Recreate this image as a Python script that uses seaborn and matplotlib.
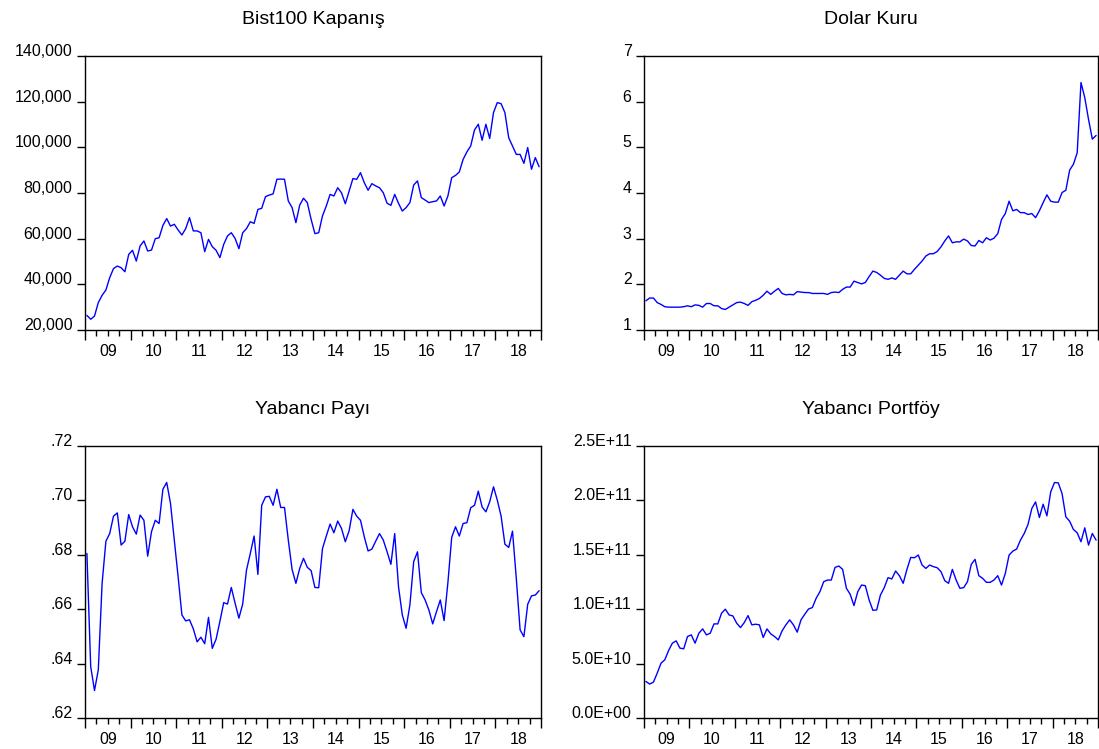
import numpy as np
import pandas as pd
import matplotlib
matplotlib.use('Agg')
import matplotlib.pyplot as plt
import seaborn as sns

# monthly data, 2009M01 - 2018M12
years = ['09', '10', '11', '12', '13', '14', '15', '16', '17', '18']

bist100 = [
    26400, 24700, 26100, 32000, 35200, 37500, 42900, 46900, 48000, 47300,
    45500, 53100, 54900, 50200, 56800, 59000, 54600, 55000, 60000, 60400,
    65800, 68800, 65500, 66300, 63800, 61600, 64400, 69200, 63400, 63400,
    62600, 54300, 59700, 56500, 54900, 51700, 57500, 61200, 62600, 60100,
    55600, 62600, 64400, 67400, 66700, 72800, 73300, 78400, 79100, 79600,
    86000, 86100, 86000, 76500, 73600, 67000, 74700, 77700, 75800, 68500,
    62200, 62600, 70000, 74300, 79400, 78700, 82300, 80100, 75300, 80800,
    86300, 86000, 88900, 84500, 81200, 84100, 83100, 82300, 80100, 75500,
    74600, 79400, 75500, 72100, 73600, 75800, 83500, 85300, 78000, 76900,
    75800, 76200, 76500, 78700, 74300, 78700, 86700, 87700, 89200, 94700,
    98000, 100600, 107600, 110100, 103100, 110100, 103900, 115200, 119600, 119100,
    115200, 104200, 100600, 96900, 96900, 93000, 99900, 90400, 95500, 91500,
]

dolar = [
    1.64, 1.70, 1.70, 1.60, 1.56, 1.51, 1.50, 1.50, 1.50, 1.50,
    1.51, 1.53, 1.51, 1.55, 1.54, 1.50, 1.58, 1.58, 1.53, 1.53,
    1.47, 1.45, 1.50, 1.55, 1.60, 1.61, 1.58, 1.54, 1.62, 1.65,
    1.69, 1.76, 1.85, 1.78, 1.85, 1.91, 1.80, 1.77, 1.78, 1.77,
    1.84, 1.83, 1.82, 1.82, 1.80, 1.80, 1.80, 1.80, 1.78, 1.82,
    1.83, 1.82, 1.89, 1.94, 1.94, 2.07, 2.04, 2.01, 2.04, 2.17,
    2.29, 2.26, 2.20, 2.13, 2.11, 2.14, 2.11, 2.20, 2.29, 2.23,
    2.23, 2.33, 2.42, 2.51, 2.62, 2.67, 2.67, 2.72, 2.82, 2.95,
    3.06, 2.91, 2.93, 2.93, 2.99, 2.95, 2.85, 2.84, 2.96, 2.91,
    3.02, 2.97, 3.01, 3.11, 3.42, 3.55, 3.82, 3.61, 3.64, 3.57,
    3.57, 3.53, 3.55, 3.46, 3.61, 3.79, 3.96, 3.82, 3.80, 3.80,
    4.01, 4.06, 4.50, 4.63, 4.88, 6.42, 6.09, 5.61, 5.18, 5.26,
]

yabanci_payi = [
    0.6805, 0.6389, 0.6301, 0.6377, 0.6695, 0.6850, 0.6878, 0.6942, 0.6954, 0.6836,
    0.6850, 0.6948, 0.6903, 0.6876, 0.6946, 0.6927, 0.6795, 0.6885, 0.6927, 0.6915,
    0.7041, 0.7066, 0.6989, 0.6854, 0.6720, 0.6579, 0.6557, 0.6561, 0.6528, 0.6480,
    0.6497, 0.6473, 0.6570, 0.6456, 0.6490, 0.6555, 0.6624, 0.6619, 0.6680, 0.6622,
    0.6567, 0.6619, 0.6744, 0.6805, 0.6869, 0.6728, 0.6982, 0.7013, 0.7015, 0.6982,
    0.7041, 0.6974, 0.6974, 0.6854, 0.6746, 0.6695, 0.6750, 0.6787, 0.6754, 0.6742,
    0.6680, 0.6679, 0.6823, 0.6869, 0.6913, 0.6881, 0.6924, 0.6897, 0.6848, 0.6888,
    0.6967, 0.6942, 0.6927, 0.6866, 0.6814, 0.6821, 0.6850, 0.6878, 0.6854, 0.6811,
    0.6765, 0.6878, 0.6683, 0.6579, 0.6530, 0.6616, 0.6775, 0.6811, 0.6661, 0.6634,
    0.6597, 0.6546, 0.6591, 0.6634, 0.6558, 0.6698, 0.6864, 0.6903, 0.6869, 0.6915,
    0.6918, 0.6973, 0.6982, 0.7034, 0.6976, 0.6958, 0.6995, 0.7050, 0.7001, 0.6942,
    0.6839, 0.6827, 0.6887, 0.6713, 0.6524, 0.6499, 0.6618, 0.6649, 0.6652, 0.6668,
]

# in units of 1E+11
yabanci_portfoy = [
    0.336, 0.312, 0.330, 0.413, 0.504, 0.535, 0.620, 0.688, 0.709, 0.642,
    0.636, 0.749, 0.764, 0.688, 0.779, 0.819, 0.764, 0.779, 0.865, 0.865,
    0.963, 1.000, 0.947, 0.938, 0.871, 0.831, 0.877, 0.941, 0.856, 0.862,
    0.856, 0.740, 0.819, 0.773, 0.749, 0.718, 0.801, 0.856, 0.902, 0.856,
    0.789, 0.902, 0.954, 1.002, 1.015, 1.100, 1.161, 1.253, 1.268, 1.268,
    1.384, 1.397, 1.366, 1.192, 1.137, 1.033, 1.161, 1.222, 1.216, 1.085,
    0.990, 0.993, 1.131, 1.198, 1.290, 1.278, 1.351, 1.308, 1.238, 1.366,
    1.476, 1.473, 1.498, 1.406, 1.375, 1.406, 1.391, 1.381, 1.345, 1.262,
    1.238, 1.366, 1.268, 1.192, 1.198, 1.253, 1.412, 1.458, 1.308, 1.284,
    1.247, 1.247, 1.268, 1.308, 1.222, 1.329, 1.498, 1.534, 1.553, 1.635,
    1.696, 1.779, 1.925, 1.986, 1.843, 1.965, 1.858, 2.078, 2.164, 2.161,
    2.063, 1.849, 1.809, 1.733, 1.702, 1.620, 1.748, 1.589, 1.696, 1.635,
]

df = pd.DataFrame({
    't': np.arange(len(bist100)),
    'bist': bist100,
    'dolar': dolar,
    'payi': yabanci_payi,
    'portfoy': np.array(yabanci_portfoy) * 1e11,
})

sns.set_style('ticks', rc={'text.color': 'black', 'axes.labelcolor': 'black',
                           'xtick.color': 'black', 'ytick.color': 'black',
                           'axes.edgecolor': 'black'})
plt.rcParams['font.family'] = ['Liberation Sans', 'DejaVu Sans']

W, H = 1099, 749
fig = plt.figure(figsize=(W / 100, H / 100), dpi=100)


def panel(x0, y0, w, h):
    # pixel box (top-left origin) -> figure fraction
    return fig.add_axes([x0 / W, 1 - (y0 + h) / H, w / W, h / H])


panels = [
    (panel(85, 56, 456, 274), 'bist', 'Bist100 Kapanış',
     np.arange(20000, 140001, 20000), lambda v: f'{v:,.0f}'),
    (panel(644, 56, 454, 274), 'dolar', 'Dolar Kuru',
     np.arange(1, 8), lambda v: f'{v:.0f}'),
    (panel(85, 446, 456, 272), 'payi', 'Yabancı Payı',
     np.array([0.62, 0.64, 0.66, 0.68, 0.70, 0.72]), lambda v: f'{v:.2f}'.lstrip('0')),
    (panel(644, 446, 454, 272), 'portfoy', 'Yabancı Portföy',
     np.arange(0, 2.51e11, 0.5e11), lambda v: f'{v:.1E}'),
]

n = len(df)
year_edges = np.arange(-0.5, n, 12)
quarter_pos = [q for q in np.arange(-0.5, n, 3) if (q + 0.5) % 12 != 0]
quarter_lab = [years[int((q + 0.5) // 12)] if (q + 0.5) % 12 == 6 else '' for q in quarter_pos]

for ax, col, title, yt, fmt in panels:
    sns.lineplot(data=df, x='t', y=col, color='#0000FF', linewidth=1.0, ax=ax)
    ax.set_xlim(-0.5, n - 0.5)
    ax.set_ylim(yt[0], yt[-1])
    ax.set_yticks(yt, [fmt(v) for v in yt])
    for lab in ax.get_yticklabels():
        lab.set_va('baseline')
    ax.set_xticks(year_edges, [''] * len(year_edges))
    ax.set_xticks(quarter_pos, quarter_lab, minor=True)
    ax.tick_params(axis='x', which='major', direction='out', length=7, width=1,
                   color='black', bottom=True)
    ax.tick_params(axis='x', which='minor', direction='out', length=4, width=1,
                   color='black', labelsize=11.5, pad=6, bottom=True)
    ax.tick_params(axis='y', which='major', direction='out', length=6, width=1,
                   color='black', labelsize=11.5, pad=3, left=True)
    ax.tick_params(axis='y', which='minor', left=False)
    ax.set_xlabel('')
    ax.set_ylabel('')
    ax.set_title(title, fontsize=14, pad=23)
    for s in ax.spines.values():
        s.set_visible(True)
        s.set_color('black')
        s.set_linewidth(1.0)

fig.savefig('out.png', dpi=100)
